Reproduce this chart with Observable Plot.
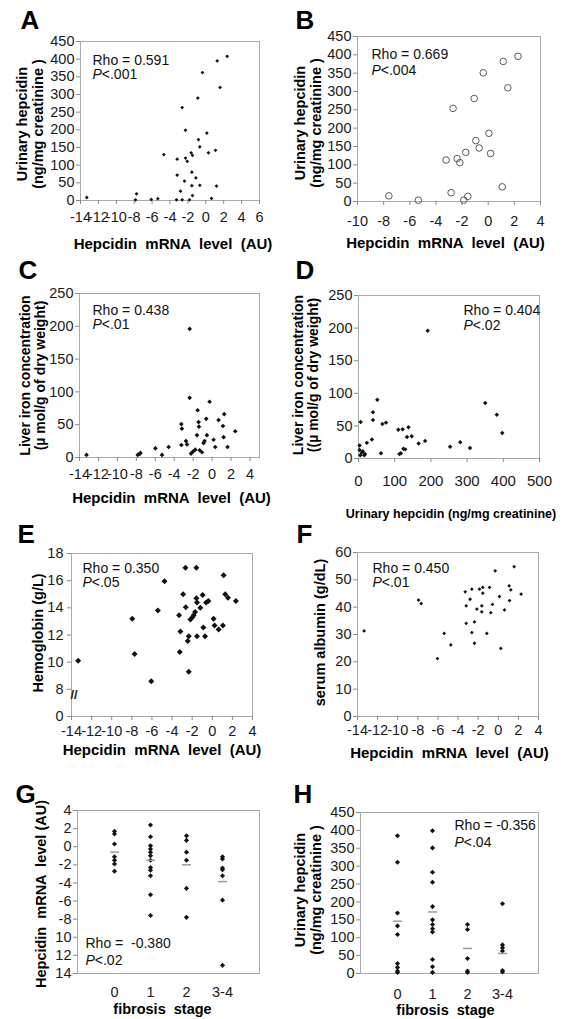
<!DOCTYPE html>
<html><head><meta charset="utf-8">
<script src="https://cdn.jsdelivr.net/npm/d3@7"></script>
<script src="https://cdn.jsdelivr.net/npm/@observablehq/plot@0.6"></script>
<style>
body{margin:0;background:#fff;}
#root{position:relative;width:565px;height:1019px;overflow:hidden;background:#fff;}
.panel{position:absolute;}
.panel svg{overflow:visible;}
.panel text{white-space:pre;}
</style></head><body><div id="root"></div>
<script>
// ---------- DATA ----------
// A: hepcidin mRNA vs urinary hepcidin
const aMrna = [-13.3,-7.74,-7.85,-6.1,-5.36,-4.69,-3.27,-3.2,-3.2,-2.83,-2.64,-2.64,-2.38,-2.27,-2.27,-2.08,-1.82,-1.64,-1.56,-1.56,-1.49,-1.49,-1.11,-0.89,-0.82,-0.67,-0.67,-0.37,0.12,0.3,0.64,1.08,1.2,1.27,1.6,2.39];
const aUhep = [8.5,19,2,3,5,130,2,117,72,26.5,2,263,55,199,120,111,2,135,80,42,128,14,64,290,172,152,43,362,191,135,6,142,41,395,320,408];
// B: subset (open circles)
const bMrna = [-7.6,-5.35,-3.22,-2.84,-2.69,-2.38,-2.17,-1.87,-1.72,-1.56,-1.07,-0.95,-0.69,-0.38,0.05,0.18,1.07,1.15,1.5,2.28];
const bUhep = [15.5,3.6,113,24,254,117,106,3.6,134,14,281,166,146,351,186,131,40,382,310,396];
// C: hepcidin mRNA vs liver iron
const cMrna = [-13.26,-7.85,-7.64,-7.57,-5.99,-5.29,-4.59,-3.25,-3.19,-3.25,-2.76,-2.65,-2.37,-2.37,-2.23,-2.02,-1.78,-1.6,-1.53,-1.43,-1.39,-1.32,-1.07,-0.9,-0.8,-0.62,-0.55,-0.27,0.15,0.33,0.68,1.14,1.28,1.21,1.63,2.44];
const cIron = [4,4,5.6,7,14,4,16,51,44,19,25,20,91,196,6,9,12,34,72,54,47,11,8,22,25,59,34,85,27,16,57,48,66,31,16,40];
// D: urinary hepcidin vs liver iron
const dUhep = [3,3,5,6,9,12,16,18,23,37,40,40,52,62,66,76,110,113,117,122,124,129,134,138,147,166,184,191,253,281,308,350,382,397];
const dIron = [20,13,5,56,9,11,5,7,24,29,71,59,90,8,53,55,44,7,8,45,15,14,33,48,34,23,27,196,18,25,16,85,67,39];
// E: hepcidin mRNA vs hemoglobin
const eMrna = [-13.34,-7.96,-7.73,-6.07,-5.41,-4.75,-3.3,-3.17,-3.23,-2.9,-2.67,-2.64,-2.44,-2.34,-2.34,-2.18,-1.98,-1.85,-1.71,-1.58,-1.58,-1.52,-1.52,-1.19,-0.96,-0.89,-0.72,-0.62,-0.39,0.13,0.23,0.63,1.06,1.13,1.29,1.56,2.35];
const eHgb = [10.1,13.2,10.6,8.6,13.8,15.95,13.45,12.25,10.75,15.0,16.95,14.05,11.55,11.9,9.3,13.15,13.3,13.45,13.7,16.95,14.7,14.4,11.9,14.0,14.95,12.55,11.9,14.4,14.5,13.2,12.7,12.4,12.7,16.4,15.0,14.75,14.5];
// F: hepcidin mRNA vs serum albumin
const fMrna = [-13.34,-7.93,-7.67,-6.05,-5.38,-4.72,-3.29,-3.19,-3.19,-2.8,-2.63,-2.63,-2.37,-2.37,-2.13,-1.87,-1.64,-1.64,-1.54,-1.54,-1.14,-0.87,-0.74,-0.58,-0.31,0.12,0.25,0.62,1.08,1.12,1.25,1.58,2.27];
const fAlb = [31.3,42.6,41.3,21.2,30.4,26.2,45.6,40.5,34.1,42.9,46.6,30.7,34.6,26.8,39.3,46.6,40.5,38.3,47.2,45.1,30.4,47.2,38,41,53.3,43.9,24.9,39,47.8,42.4,46.3,54.8,44.8];
// G: fibrosis stage vs hepcidin mRNA
const stages = ["0","1","2","3-4"];
const gStage0 = [1.7,1.4,0.3,-1.1,-1.5,-1.9,-2.7];
const gStage1 = [2.4,1.1,0.1,-0.25,-0.6,-1.0,-1.5,-2.3,-2.6,-3.2,-5.3,-7.6];
const gStage2 = [1.2,0.7,-0.6,-1.5,-4.6,-7.8];
const gStage34 = [-1.1,-1.35,-2.35,-2.55,-3.2,-5.9,-13.1];
const gMeans = [-0.6,-1.5,-2.0,-3.85];
// H: fibrosis stage vs urinary hepcidin
const hStage0 = [385,311,169,133,109,28,17,7,3];
const hStage1 = [399,351,283,255,187,150,137,125,116,39,19,3];
const hStage2 = [137,123,42,7,3];
const hStage34 = [195,80,72,63,8,4];
const hMeans = [146,172,70,56];

// tick values and labels
const mrnaTicksA = [-14,-12,-10,-8,-6,-4,-2,0,2,4,6];
const mrnaTicksB = [-10,-8,-6,-4,-2,0,2,4];
const mrnaTicks = [-14,-12,-10,-8,-6,-4,-2,0,2,4];
const uhepTicks = [0,50,100,150,200,250,300,350,400,450];
const ironTicks = [0,50,100,150,200,250];
const uhepTicksD = [0,100,200,300,400,500];
const eYTicks = [6,8,10,12,14,16,18];
const eYLabels = ["0","8","10","12","14","16","18"];
const fYTicks = [0,10,20,30,40,50,60];
const gYTicks = [4,2,0,-2,-4,-6,-8,-10,-12,-14];
const gYLabels = ["4","2","0","-2","-4","-6","-8","10","12","14"];

const letters = ["A","B","C","D","E","F","G","H"];
const rhoLabels = ["Rho = 0.591","Rho = 0.669","Rho = 0.438","Rho = 0.404","Rho = 0.350","Rho = 0.450","Rho =  -0.380","Rho = -0.356"];
const pLabels = ["<.001","<.004","<.01","<.02","<.05","<.01","<.02","<.04"];
const xTitleMrna = "Hepcidin  mRNA  level  (AU)";
const yTitleUhep = "Urinary hepcidin\n(ng/mg creatinine )";

// ---------- HELPERS ----------
const FONT = '"Liberation Sans", Arial, Helvetica, sans-serif';
const zip = (xs, ys) => xs.map((x, i) => ({x, y: ys[i]}));
const stageRows = (arrs) => arrs.flatMap((a, i) => a.map(v => ({stage: stages[i], y: v})));
const meanRows = (m) => m.map((v, i) => ({stage: stages[i], y: v}));
const dash = {draw(ctx) { ctx.moveTo(-4.5, 0); ctx.lineTo(4.5, 0); }};
const numFmt = d => String(d);

function makePanel(c) {
  const [left, top, w, h] = c.box;
  const marks = [
    Plot.frame({stroke: "#a9a9a9"}),
    Plot.axisY(c.yTicks, {tickSize: 4, tickPadding: c.yPad ?? 2, tickFormat: c.yFormat || numFmt,
      stroke: "#8a8a8a", fill: "#1a1a1a", fontSize: 14.5, label: null}),
    Plot.axisX(c.xTicks, {tickSize: c.xTickSize ?? 4, tickPadding: c.xPad, tickFormat: c.xFormat || numFmt,
      stroke: "#8a8a8a", fill: "#1a1a1a", fontSize: c.xFont || 14.5, label: null}),
    ...c.marks,
    Plot.text([c.letter], {frameAnchor: "top-left", text: d => d, dx: c.letterD[0], dy: c.letterD[1],
      textAnchor: "start", lineAnchor: "bottom", fontSize: 26, fontWeight: "bold", fill: "#000"}),
    Plot.text([c.yTitle], {frameAnchor: "left", text: d => d, rotate: -90, dx: c.yTitleD[0], dy: c.yTitleD[1],
      textAnchor: "middle", lineAnchor: "middle", lineHeight: 1.05, fontSize: c.yTitleFont || 14.5, fontWeight: "bold", fill: "#000"}),
    Plot.text([c.xTitle], {frameAnchor: "bottom", text: d => d, dx: c.xTitleD[0], dy: c.xTitleD[1],
      textAnchor: "middle", lineAnchor: "middle", fontSize: c.xTitleFont || 15, fontWeight: "bold", fill: "#000"}),
    Plot.text([c.rho], {frameAnchor: "top-left", text: d => d, dx: c.rhoD[0], dy: c.rhoD[1],
      textAnchor: "start", lineAnchor: "middle", fontSize: 14, fill: "#111"}),
    Plot.text(["P"], {frameAnchor: "top-left", text: d => d, dx: c.rhoD[0], dy: c.pDy,
      textAnchor: "start", lineAnchor: "middle", fontSize: 14, fontStyle: "italic", fill: "#111"}),
    Plot.text([c.p], {frameAnchor: "top-left", text: d => d, dx: c.rhoD[0] + 9.3, dy: c.pDy,
      textAnchor: "start", lineAnchor: "middle", fontSize: 14, fill: "#111"})
  ];
  const chart = Plot.plot({
    width: w, height: h,
    marginLeft: c.m[0], marginRight: c.m[1], marginTop: c.m[2], marginBottom: c.m[3],
    x: c.x, y: c.y,
    style: {fontFamily: FONT, fontSize: "14px", background: "transparent", color: "#111", overflow: "visible"},
    marks
  });
  const div = document.createElement("div");
  div.className = "panel";
  div.style.left = left + "px"; div.style.top = top + "px";
  div.appendChild(chart);
  document.getElementById("root").appendChild(div);
}

const blackDot = (data, r) => Plot.dot(data, {x: "x", y: "y", symbol: "diamond2", r, fill: "#111", stroke: "none"});

// ---------- PANELS ----------
makePanel({
  box: [0, 0, 283, 255], m: [80, 24, 41, 55],
  x: {domain: [-14, 6]}, y: {domain: [0, 450]},
  xTicks: mrnaTicksA, yTicks: uhepTicks, xPad: 7,
  marks: [blackDot(zip(aMrna, aUhep), 1.7)],
  letter: letters[0], letterD: [-60, -13],
  yTitle: yTitleUhep, yTitleD: [-50.5, 3],
  xTitle: xTitleMrna, xTitleD: [3, 44],
  rho: rhoLabels[0], p: pLabels[0], rhoD: [12, 19], pDy: 33
});
makePanel({
  box: [283, 0, 282, 255], m: [74, 25, 36, 54],
  x: {domain: [-10, 4]}, y: {domain: [0, 450]},
  xTicks: mrnaTicksB, yTicks: uhepTicks, xPad: 10,
  marks: [Plot.dot(zip(bMrna, bUhep), {x: "x", y: "y", r: 3.3, fill: "none", stroke: "#5a5a5a", strokeWidth: 1})],
  letter: letters[1], letterD: [-62, -8],
  yTitle: yTitleUhep, yTitleD: [-49.5, 4],
  xTitle: xTitleMrna, xTitleD: [-3.5, 42],
  rho: rhoLabels[1], p: pLabels[1], rhoD: [14, 18], pDy: 34
});
makePanel({
  box: [0, 255, 283, 265], m: [79, 24, 38, 63],
  x: {domain: [-14, 5]}, y: {domain: [0, 250]},
  xTicks: mrnaTicks, yTicks: ironTicks, xPad: 7,
  marks: [blackDot(zip(cMrna, cIron), 2.1)],
  letter: letters[2], letterD: [-61, -15],
  yTitle: "Liver iron concentration\n(µ mol/g of dry weight)", yTitleD: [-47, 0], yTitleFont: 14,
  xTitle: xTitleMrna, xTitleD: [2, 41],
  rho: rhoLabels[2], p: pLabels[2], rhoD: [13, 17], pDy: 31
});
makePanel({
  box: [283, 255, 282, 265], m: [75, 26, 40, 62],
  x: {domain: [0, 500]}, y: {domain: [0, 250]},
  xTicks: uhepTicksD, yTicks: ironTicks, xPad: 12.5, xFont: 15,
  marks: [blackDot(zip(dUhep, dIron), 2)],
  letter: letters[3], letterD: [-63, -17],
  yTitle: "Liver iron concentration\n((µ mol/g of dry weight)", yTitleD: [-52.5, -2], yTitleFont: 14,
  xTitle: "Urinary hepcidin (ng/mg creatinine)", xTitleD: [2, 55], xTitleFont: 12.5,
  rho: rhoLabels[3], p: pLabels[3], rhoD: [105, 15], pDy: 30
});
makePanel({
  box: [0, 520, 283, 250], m: [71, 31, 33, 54],
  x: {domain: [-14, 4]}, y: {domain: [6, 18]},
  xTicks: mrnaTicks, yTicks: eYTicks, yFormat: d => eYLabels[eYTicks.indexOf(d)], yPad: 4, xPad: 5,
  marks: [
    blackDot(zip(eMrna, eHgb), 2.7),
    Plot.text(["//"], {frameAnchor: "bottom-left", text: d => d, dx: -1, dy: -18, fontSize: 13, fontWeight: "bold", fill: "#222"})
  ],
  letter: letters[4], letterD: [-54, -11],
  yTitle: "Hemoglobin (g/L)", yTitleD: [-33, -2],
  xTitle: xTitleMrna, xTitleD: [0, 34],
  rho: rhoLabels[4], p: pLabels[4], rhoD: [11, 15], pDy: 29
});
makePanel({
  box: [283, 520, 282, 250], m: [74, 27, 32, 54],
  x: {domain: [-14, 4]}, y: {domain: [0, 60]},
  xTicks: mrnaTicks, yTicks: fYTicks, xPad: 4.5,
  marks: [blackDot(zip(fMrna, fAlb), 1.7)],
  letter: letters[5], letterD: [-61, -10],
  yTitle: "serum albumin (g/dL)", yTitleD: [-37, -2],
  xTitle: xTitleMrna, xTitleD: [1.5, 37],
  rho: rhoLabels[5], p: pLabels[5], rhoD: [15, 16], pDy: 30
});
makePanel({
  box: [0, 770, 283, 249], m: [77, 24, 40, 46],
  x: {type: "point", domain: stages, padding: 1}, y: {domain: [-14, 4]},
  xTicks: stages, xFormat: d => d, yTicks: gYTicks, yFormat: d => gYLabels[gYTicks.indexOf(d)],
  xTickSize: 0, xPad: 13.5,
  marks: [
    Plot.dot(stageRows([gStage0, gStage1, gStage2, gStage34]), {x: "stage", y: "y", symbol: "diamond2", r: 2.3, fill: "#111", stroke: "none"}),
    Plot.dot(meanRows(gMeans), {x: "stage", y: "y", symbol: dash, fill: "none", stroke: "#9a9a9a", strokeWidth: 1.5})
  ],
  letter: letters[6], letterD: [-62, -8],
  yTitle: "Hepcidin  mRNA  level (AU)", yTitleD: [-36, 2],
  xTitle: "fibrosis  stage", xTitleD: [-6, 36], xTitleFont: 14.5,
  rho: rhoLabels[6], p: pLabels[6], rhoD: [8, 133], pDy: 150
});
makePanel({
  box: [283, 770, 282, 249], m: [77, 27, 42, 46],
  x: {type: "point", domain: stages, padding: 1}, y: {domain: [0, 450]},
  xTicks: stages, xFormat: d => d, yTicks: uhepTicks,
  xTickSize: 0, xPad: 15.5,
  marks: [
    Plot.dot(stageRows([hStage0, hStage1, hStage2, hStage34]), {x: "stage", y: "y", symbol: "diamond2", r: 2.3, fill: "#111", stroke: "none"}),
    Plot.dot(meanRows(hMeans), {x: "stage", y: "y", symbol: dash, fill: "none", stroke: "#9a9a9a", strokeWidth: 1.5})
  ],
  letter: letters[7], letterD: [-67, -10],
  yTitle: yTitleUhep, yTitleD: [-52.5, -3],
  xTitle: "fibrosis  stage", xTitleD: [-4, 37], xTitleFont: 14.5,
  rho: rhoLabels[7], p: pLabels[7], rhoD: [94, 13], pDy: 30
});
</script></body></html>
